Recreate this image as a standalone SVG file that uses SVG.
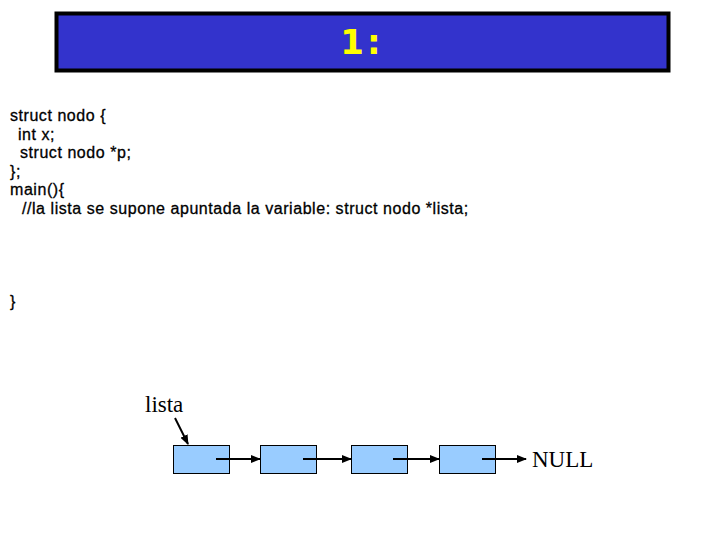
<svg xmlns="http://www.w3.org/2000/svg" width="720" height="540" viewBox="0 0 720 540">
<style>
.code{font-family:"Liberation Sans",Arial,sans-serif;font-size:16px;letter-spacing:0.55px;fill:#000;stroke:#000;stroke-width:0.3}
.serif{font-family:"Liberation Serif","Times New Roman",serif;font-size:23px;fill:#000}
.node{fill:#99ccff;stroke:#000;stroke-width:1}
.conn{stroke:#000;stroke-width:2;fill:none;marker-end:url(#ah)}
</style>
<defs>
<marker id="ah" markerWidth="10" markerHeight="8" refX="9" refY="4" orient="auto" markerUnits="userSpaceOnUse">
<path d="M0,0 L10,4 L0,8 Z" fill="#000"/>
</marker>
</defs>
<rect width="720" height="540" fill="#fff"/>
<g id="title">
<rect x="56.5" y="13.5" width="612" height="57" fill="#3333cc" stroke="#000" stroke-width="4"/>
<text x="362" y="54" text-anchor="middle" font-family="DejaVu Sans,Verdana,sans-serif" font-weight="bold" font-size="34" letter-spacing="3" fill="#ffff00">1:</text>
</g>
<g id="code" class="code">
<text x="10" y="121">struct nodo {</text>
<text x="18" y="139.5">int x;</text>
<text x="20" y="158">struct nodo *p;</text>
<text x="10" y="176.5">};</text>
<text x="10" y="195">main(){</text>
<text x="22" y="213.5">//la lista se supone apuntada la variable: struct nodo *lista;</text>
<text x="10" y="307">}</text>
</g>
<g id="lista-label"><text class="serif" x="145" y="412">lista</text></g>
<g id="n1"><rect class="node" x="173.5" y="445.5" width="56" height="28"/></g>
<g id="n2"><rect class="node" x="260.5" y="445.5" width="56" height="28"/></g>
<g id="n3"><rect class="node" x="351.5" y="445.5" width="56" height="28"/></g>
<g id="n4"><rect class="node" x="439.5" y="445.5" width="56" height="28"/></g>
<g id="null-label"><text class="serif" x="532" y="467">NULL</text></g>
<g id="connectors">
<line class="conn" x1="175" y1="418" x2="188" y2="444"/>
<line class="conn" x1="216" y1="459" x2="260" y2="459"/>
<line class="conn" x1="303" y1="459" x2="351" y2="459"/>
<line class="conn" x1="393" y1="459" x2="439" y2="459"/>
<line class="conn" x1="482" y1="459" x2="526" y2="459"/>
</g>
</svg>
